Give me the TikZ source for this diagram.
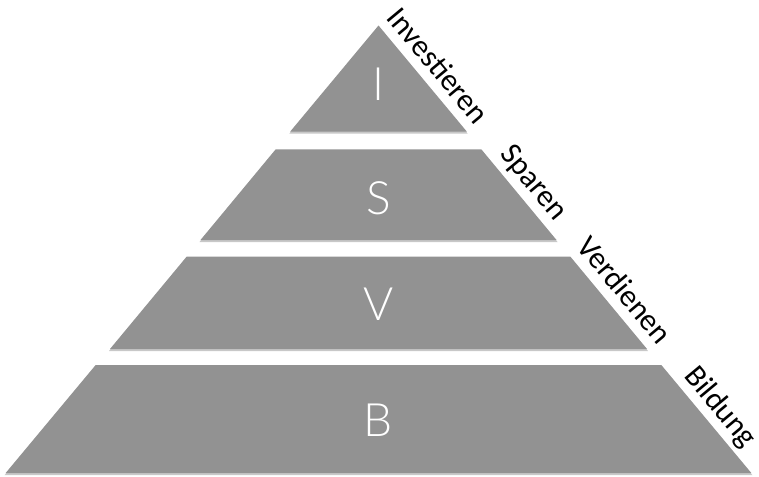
\documentclass[tikz,border=0pt]{standalone}
\usepackage{fontspec}
\setmainfont{Carlito}
\newfontfamily\thinfont{Lato Light}
\definecolor{band}{HTML}{929292}
\definecolor{shade}{HTML}{C8C8C8}
\tikzset{
  bandshape/.style={fill=band, draw=none},
  bandshadow/.style={fill=shade, draw=none},
  letter/.style={text=white, inner sep=0pt, font=\thinfont\fontsize{46}{50}\selectfont},
  sidelabel/.style={text=black, inner sep=0pt, anchor=base, rotate=-50.2, font=\fontsize{31}{34}\selectfont}
}
\begin{document}
\begin{tikzpicture}[x=1pt,y=-1pt]
\useasboundingbox (0,0) rectangle (759,476);
\fill[white] (0,0) rectangle (759,476);
% shadows
\fill[bandshadow] (378.5,27.5) -- (467.6,133.5) -- (289.4,133.5) -- cycle;
\fill[bandshadow] (274.7,151.3) -- (482.3,151.3) -- (557.5,242) -- (199.5,242) -- cycle;
\fill[bandshadow] (185.6,258.7) -- (571.4,258.7) -- (648,351) -- (109,351) -- cycle;
\fill[bandshadow] (94.7,367) -- (662.3,367) -- (752.3,475) -- (4.7,475) -- cycle;
% bands
\fill[bandshape] (378.5,25.5) -- (466.9,131.7) -- (290.1,131.7) -- cycle;
\fill[bandshape] (275.7,149.3) -- (481.3,149.3) -- (556.5,240) -- (200.5,240) -- cycle;
\fill[bandshape] (186.6,256.7) -- (570.4,256.7) -- (647,349) -- (110,349) -- cycle;
\fill[bandshape] (95.7,365) -- (661.3,365) -- (751.3,473) -- (5.7,473) -- cycle;
% letters
\node[letter] (li) at (378.5,84) {I};
\node[letter] (ls) at (378.8,198.3) {S};
\node[letter] (lv) at (378.5,304.5) {V};
\node[letter] (lb) at (378.5,420) {B};
% side labels
\node[sidelabel] (tinv) at (430.3,72.2) {Investieren};
\node[sidelabel] (tspa) at (527.0,188.3) {Sparen};
\node[sidelabel] (tver) at (617.1,296.5) {Verdienen};
\node[sidelabel] (tbil) at (713.9,412.6) {Bildung};
\end{tikzpicture}
\end{document}
